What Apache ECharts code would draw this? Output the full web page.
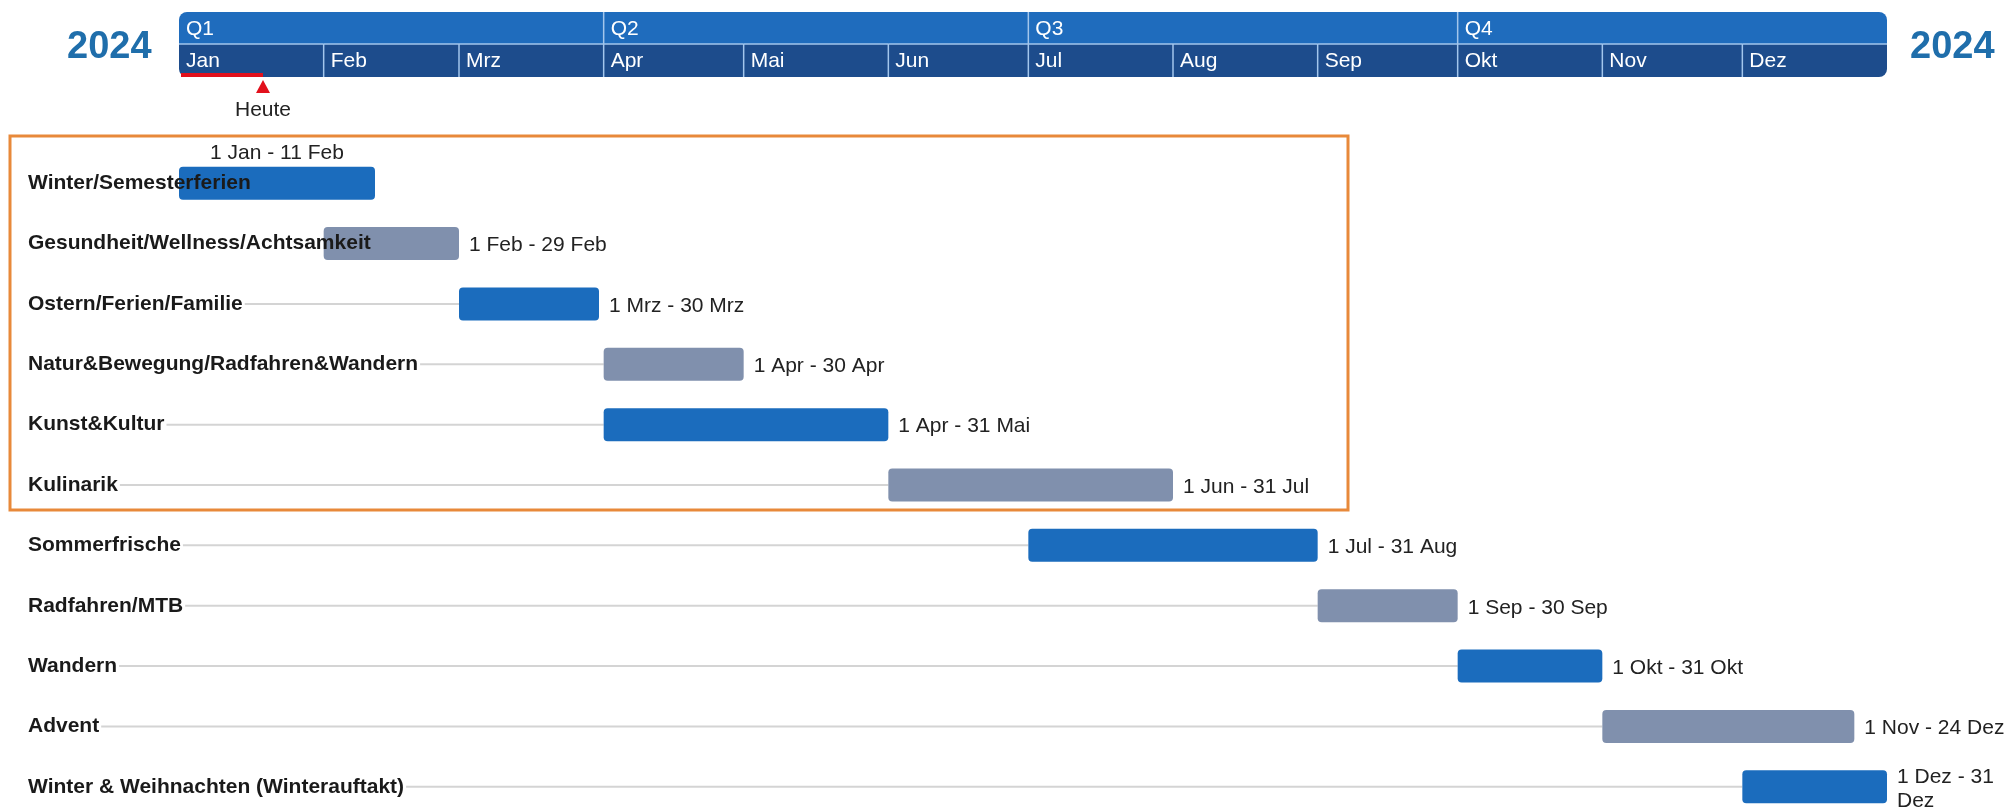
<!DOCTYPE html>
<html>
<head>
<meta charset="utf-8">
<script src="https://cdn.jsdelivr.net/npm/echarts@6/dist/echarts.min.js"></script>
<style>
    html, body { margin: 0; padding: 0; background: #fff; }
    #chart { width: 2009px; height: 809px; }
</style>
</head>
<body>
<div id="chart"></div>
<script>
const yearLabel = '2024'
const todayDate = '2024-01-19'
const quarters = ['Q1', 'Q2', 'Q3', 'Q4']
const months = ['Jan', 'Feb', 'Mrz', 'Apr', 'Mai', 'Jun', 'Jul', 'Aug', 'Sep', 'Okt', 'Nov', 'Dez']
const monthStarts = ['2024-01-01', '2024-02-01', '2024-03-01', '2024-04-01', '2024-05-01', '2024-06-01',
    '2024-07-01', '2024-08-01', '2024-09-01', '2024-10-01', '2024-11-01', '2024-12-01', '2025-01-01']

const topics = [
    'Winter/Semesterferien',
    'Gesundheit/Wellness/Achtsamkeit',
    'Ostern/Ferien/Familie',
    'Natur&Bewegung/Radfahren&Wandern',
    'Kunst&Kultur',
    'Kulinarik',
    'Sommerfrische',
    'Radfahren/MTB',
    'Wandern',
    'Advent',
    'Winter & Weihnachten (Winterauftakt)'
]
const startDates = ['2024-01-01', '2024-02-01', '2024-03-01', '2024-04-01', '2024-04-01', '2024-06-01',
    '2024-07-01', '2024-09-01', '2024-10-01', '2024-11-01', '2024-12-01']
// letzter Tag (inklusive)
const endDates = ['2024-02-11', '2024-02-29', '2024-03-30', '2024-04-30', '2024-05-31', '2024-07-31',
    '2024-08-31', '2024-09-30', '2024-10-31', '2024-12-24', '2024-12-31']

const FONT = '"Liberation Sans", Arial, sans-serif'
const BAR_COLORS = ['#1b6cbd', '#8090ad']
const BAND_TOP = 12
const BAND_MID = 44
const BAND_BOTTOM = 77
const SEP_COLOR = '#a3c6ec'

function parseDay (s) {
    let p = s.split('-').map(Number)
    return new Date(p[0], p[1] - 1, p[2])
}
function dayAfter (s) {
    let d = parseDay(s)
    return new Date(d.getFullYear(), d.getMonth(), d.getDate() + 1)
}
function fmtDay (s) {
    let d = parseDay(s)
    return d.getDate() + ' ' + months[d.getMonth()]
}

const measure = document.createElement('canvas').getContext('2d')
measure.font = 'bold 21px ' + FONT

/**
 * Kopfzeile mit Quartalen und Monaten
 */
function renderMonth (params, api) {
    let i = params.dataIndex
    let x0 = api.coord([api.value(0), 0])[0]
    let x1 = api.coord([api.value(1), 0])[0]
    let first = i === 0
    let last = i === months.length - 1
    let children = []
    children.push({
        type: 'rect',
        shape: {x: x0, y: BAND_MID, width: x1 - x0, height: BAND_BOTTOM - BAND_MID, r: [0, 0, last ? 8 : 0, first ? 8 : 0]},
        style: {fill: '#1d4c8c'}
    })
    let qStart = i % 3 === 0
    if (qStart) {
        let qEnd = api.coord([parseDay(monthStarts[i + 3]).getTime(), 0])[0]
        children.push({
            type: 'rect',
            shape: {x: x0, y: BAND_TOP, width: qEnd - x0, height: BAND_MID - BAND_TOP, r: [first ? 8 : 0, i === 9 ? 8 : 0, 0, 0]},
            style: {fill: '#1f6cbd'}
        })
        children.push({
            type: 'text',
            style: {text: quarters[i / 3], x: x0 + 7, y: (BAND_TOP + BAND_MID) / 2 + 1, fill: '#fff',
                font: '21px ' + FONT, verticalAlign: 'middle'},
            z2: 5
        })
    }
    if (!first) {
        children.push({
            type: 'line',
            shape: {x1: x0, y1: qStart ? BAND_TOP : BAND_MID, x2: x0, y2: BAND_BOTTOM},
            style: {stroke: SEP_COLOR, lineWidth: 1.5},
            z2: 4
        })
    }
    children.push({
        type: 'line',
        shape: {x1: x0, y1: BAND_MID, x2: x1, y2: BAND_MID},
        style: {stroke: SEP_COLOR, lineWidth: 1.5},
        z2: 4
    })
    children.push({
        type: 'text',
        style: {text: months[i], x: x0 + 7, y: (BAND_MID + BAND_BOTTOM) / 2 + 1, fill: '#fff',
            font: '21px ' + FONT, verticalAlign: 'middle'},
        z2: 5
    })
    return {type: 'group', children: children}
}

/**
 * Balken je Thema
 */
function renderTopic (params, api) {
    let i = params.dataIndex
    let start = api.coord([api.value(0), i])
    let end = api.coord([api.value(1), i])
    let h = 33
    let cy = start[1]
    let nameX = 28
    let nameEnd = nameX + measure.measureText(topics[i]).width + 2
    let children = []
    if (start[0] > nameEnd) {
        children.push({
            type: 'line',
            shape: {x1: nameEnd, y1: cy, x2: start[0], y2: cy},
            style: {stroke: '#d4d4d4', lineWidth: 2}
        })
    }
    children.push({
        type: 'rect',
        shape: {x: start[0], y: cy - h / 2, width: end[0] - start[0], height: h, r: 4},
        style: {fill: BAR_COLORS[i % 2]}
    })
    children.push({
        type: 'text',
        style: {text: topics[i], x: nameX, y: cy, fill: '#1a1a1a', font: 'bold 21px ' + FONT, verticalAlign: 'middle'}
    })
    let label = fmtDay(startDates[i]) + ' - ' + fmtDay(endDates[i])
    if (i === 0) {
        children.push({
            type: 'text',
            style: {text: label, x: (start[0] + end[0]) / 2, y: cy - h / 2 - 3, fill: '#222',
                font: '21px ' + FONT, align: 'center', verticalAlign: 'bottom'}
        })
    } else {
        let lx = end[0] + 10
        children.push({
            type: 'text',
            style: {text: label, x: lx, y: cy + 2, fill: '#222', font: '21px ' + FONT,
                verticalAlign: 'middle', width: api.getWidth() - lx, overflow: 'break', lineHeight: 24}
        })
    }
    return {type: 'group', children: children}
}

function renderToday (params, api) {
    let x0 = api.coord([parseDay(monthStarts[0]).getTime(), 0])[0]
    let x = api.coord([api.value(0), 0])[0]
    return {
        type: 'group',
        children: [
            {type: 'line', shape: {x1: x0 + 2, y1: BAND_BOTTOM - 2, x2: x, y2: BAND_BOTTOM - 2},
                style: {stroke: '#e2101c', lineWidth: 4}},
            {type: 'polygon', shape: {points: [[x, BAND_BOTTOM + 3], [x - 7, BAND_BOTTOM + 16], [x + 7, BAND_BOTTOM + 16]]},
                style: {fill: '#e2101c'}},
            {type: 'text', style: {text: 'Heute', x: x, y: BAND_BOTTOM + 33, fill: '#222', font: '21px ' + FONT,
                align: 'center', verticalAlign: 'middle'}}
        ]
    }
}

const monthData = months.map((m, i) => [parseDay(monthStarts[i]).getTime(), parseDay(monthStarts[i + 1]).getTime()])
const topicData = topics.map((t, i) => [parseDay(startDates[i]).getTime(), dayAfter(endDates[i]).getTime(), i])

const chart = echarts.init(document.getElementById('chart'))
chart.setOption({
    animation: false,
    grid: {left: 179, right: 122, top: 153, height: 664, outerBoundsMode: 'none'},
    xAxis: {
        type: 'time',
        min: parseDay(monthStarts[0]).getTime(),
        max: parseDay(monthStarts[12]).getTime(),
        show: false
    },
    yAxis: {type: 'category', data: topics, inverse: true, show: false},
    graphic: [
        {type: 'text', left: 67, top: 29, style: {text: yearLabel, fill: '#1f6eab', font: 'bold 38px ' + FONT}},
        {type: 'text', left: 1910, top: 29, style: {text: yearLabel, fill: '#1f6eab', font: 'bold 38px ' + FONT}},
        {type: 'rect', shape: {x: 10, y: 136, width: 1338, height: 374},
            style: {fill: 'none', stroke: '#e8893a', lineWidth: 3}, z: 0}
    ],
    series: [
        {type: 'custom', renderItem: renderMonth, data: monthData, encode: {x: [0, 1]}, silent: true, z: 3},
        {type: 'custom', renderItem: renderTopic, data: topicData, encode: {x: [0, 1], y: 2}, silent: true, z: 2},
        {type: 'custom', renderItem: renderToday, data: [[parseDay(todayDate).getTime()]], encode: {x: 0}, silent: true, z: 4}
    ]
})
</script>
</body>
</html>
